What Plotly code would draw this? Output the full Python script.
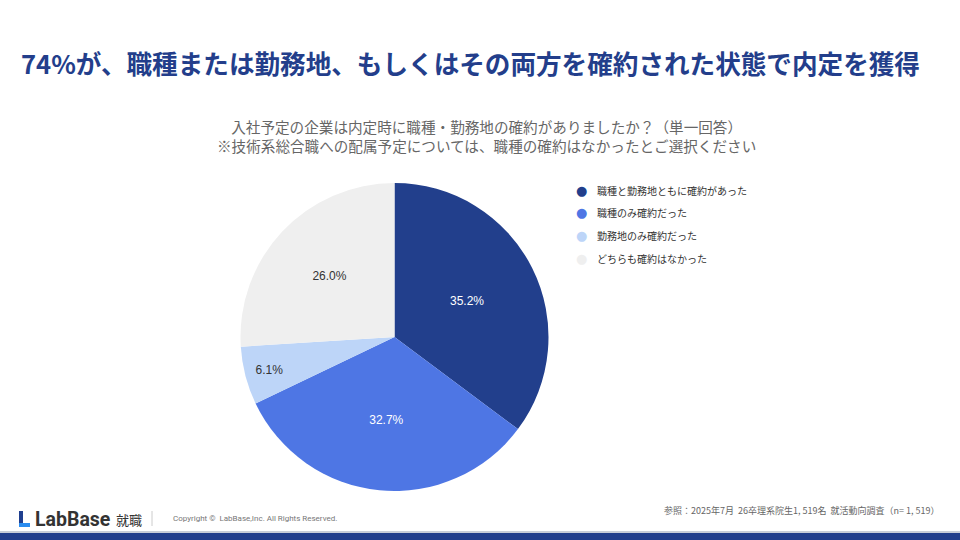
import plotly.graph_objects as go

# データ
categories = ["職種と勤務地ともに確約があった", "職種のみ確約だった", "勤務地のみ確約だった", "どちらも確約はなかった"]
shares = [35.2, 32.7, 6.1, 26.0]
colors = ["#223f8c", "#4e76e4", "#bdd5f8", "#efefef"]
label_colors = ["#ffffff", "#ffffff", "#333333", "#333333"]

title = "74%が、職種または勤務地、もしくはその両方を確約された状態で内定を獲得"
question = "入社予定の企業は内定時に職種・勤務地の確約がありましたか？（単一回答）"
note = "※技術系総合職への配属予定については、職種の確約はなかったとご選択ください"
source = "参照：2025年7月  26卒理系院生1, 519名  就活動向調査（n= 1, 519）"
copyright_text = "Copyright ©  LabBase,Inc. All Rights Reserved."

W, H = 960, 540
jp = "Noto Sans CJK JP"

fig = go.Figure()

fig.add_trace(go.Pie(
    labels=categories,
    values=shares,
    sort=False,
    direction="clockwise",
    rotation=0,
    marker=dict(colors=colors, line=dict(width=0)),
    texttemplate="%{value:.1f}%",
    textposition="inside",
    insidetextorientation="horizontal",
    textfont=dict(family="Liberation Sans, Arial", size=12, color=label_colors),
    hoverinfo="label+percent",
    showlegend=False,
    domain=dict(x=[394.5 / W - 154 / W, 394.5 / W + 154 / W],
                y=[1 - 337 / H - 154 / H, 1 - 337 / H + 154 / H]),
))

ann = []
# タイトル
ann.append(dict(text="<b>" + title + "</b>", x=19 / W, y=1 - 62 / H, xanchor="left", yanchor="middle",
                font=dict(family=jp, size=25.6, color="#233e8b"), showarrow=False))
# 設問
ann.append(dict(text=question + "<br>" + note, x=486 / W, y=1 - 136 / H, xanchor="center", yanchor="middle",
                font=dict(family=jp, size=14.6, color="#666666"), showarrow=False))

# 凡例（丸マーカー）
for i, (c, col) in enumerate(zip(categories, colors)):
    y = 1 - (190 + i * 22.7) / H
    ann.append(dict(text="●", x=581 / W, y=y, xanchor="center", yanchor="middle",
                    font=dict(family="DejaVu Sans", size=13, color=col), showarrow=False))
    ann.append(dict(text=c, x=595 / W, y=y, xanchor="left", yanchor="middle",
                    font=dict(family=jp, size=10, color="#333333"), showarrow=False))

# フッター
ann.append(dict(text=source, x=942 / W, y=1 - 510 / H, xanchor="right", yanchor="middle",
                font=dict(family=jp, size=9, color="#666666"), showarrow=False))
ann.append(dict(text=copyright_text, x=171 / W, y=1 - 518 / H, xanchor="left", yanchor="middle",
                font=dict(family="Roboto", size=8, color="#777777"), showarrow=False))
ann.append(dict(text="<b>LabBase</b>", x=33 / W, y=1 - 519 / H, xanchor="left", yanchor="middle",
                font=dict(family="Roboto", size=19.5, color="#333333"), showarrow=False))
ann.append(dict(text="就職", x=114 / W, y=1 - 519 / H, xanchor="left", yanchor="middle",
                font=dict(family=jp, size=13, color="#333333"), showarrow=False))

shapes = [
    # ロゴのL
    dict(type="rect", xref="paper", yref="paper", x0=19 / W, x1=23 / W, y0=1 - 527 / H, y1=1 - 511 / H,
         fillcolor="#1f3f8f", line=dict(width=0)),
    dict(type="rect", xref="paper", yref="paper", x0=19 / W, x1=30 / W, y0=1 - 527 / H, y1=1 - 523 / H,
         fillcolor="#2a8cf0", line=dict(width=0)),
    # 区切り線
    dict(type="line", xref="paper", yref="paper", x0=152 / W, x1=152 / W, y0=1 - 526 / H, y1=1 - 511 / H,
         line=dict(color="#cccccc", width=1)),
    # 下部バー
    dict(type="rect", xref="paper", yref="paper", x0=0, x1=1, y0=1 - 533 / H, y1=1 - 531 / H,
         fillcolor="#c9ced8", line=dict(width=0)),
    dict(type="rect", xref="paper", yref="paper", x0=0, x1=1, y0=0, y1=1 - 533 / H,
         fillcolor="#223f8c", line=dict(width=0)),
]

fig.update_layout(
    width=W, height=H,
    margin=dict(l=0, r=0, t=0, b=0),
    paper_bgcolor="white",
    plot_bgcolor="white",
    annotations=ann,
    shapes=shapes,
    showlegend=False,
)

# ページの余白をなくして 960x540 にぴったり合わせる
fig.write_html("out.html", config={"displayModeBar": False},
               post_script="document.body.style.margin='0';")
